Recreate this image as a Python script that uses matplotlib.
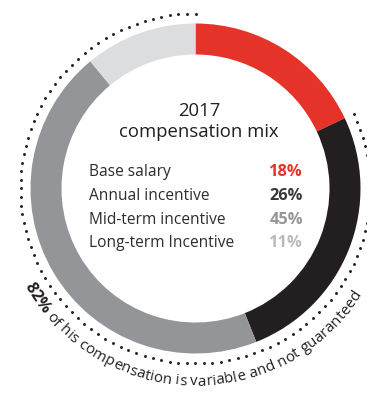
import numpy as np
import matplotlib
matplotlib.use("Agg")
import matplotlib.pyplot as plt
from matplotlib.font_manager import FontProperties

# compensation mix, 2017
labels = ["Base salary", "Annual incentive", "Mid-term incentive", "Long-term Incentive"]
shares = [18, 26, 45, 11]
ring_colors = ["#E5332A", "#231F20", "#939598", "#DCDDDE"]
pct_colors = ["#E5332A", "#3A393A", "#939598", "#B8BABC"]
title_lines = ["2017", "compensation mix"]
variable_label = "82%"
variable_note = " of his compensation is variable and not guaranteed"

DARK = "#231F20"
FONT = "Open Sans"

W, H = 367, 398
fig = plt.figure(figsize=(W / 100, H / 100), dpi=100)
ax = fig.add_axes([0, 0, 1, 1])

# ring, clockwise from twelve o'clock
cx, cy = 195.5, 209.5
R, ring_w = 165, 31
ax.pie(shares, colors=ring_colors, startangle=90, counterclock=False,
       radius=R, center=(cx, cy), wedgeprops=dict(width=ring_w, linewidth=0))
ax.set_xlim(0, W)
ax.set_ylim(0, H)
ax.set_aspect("auto")
ax.axis("off")

# dotted arc around the variable part (everything except base salary)
base_deg = 360 * shares[0] / 100
theta = np.radians(np.linspace(90, 450 - base_deg, 106))
r_dots = 175
ax.scatter(cx + r_dots * np.cos(theta), cy + r_dots * np.sin(theta),
           s=4.5, color=DARK, linewidths=0, zorder=3)

# centre title
ax.text(199, H - 116, title_lines[0], ha="center", va="baseline",
        fontsize=13.3, family=FONT, color=DARK)
ax.text(199, H - 137, title_lines[1], ha="center", va="baseline",
        fontsize=13.3, family=FONT, color=DARK)

# legend rows
baselines = [176, 200, 223.5, 247]
for lab, val, col, yb in zip(labels, shares, pct_colors, baselines):
    ax.text(89, H - yb, lab, ha="left", va="baseline",
            fontsize=11.2, family=FONT, color="#2E2C2D")
    ax.text(303, H - yb, f"{val}%", ha="right", va="baseline",
            fontsize=11.8, family=FONT, fontweight="bold", color=col)

# curved note under the ring
fp_bold = FontProperties(family=FONT, weight="bold", size=11.8)
fp_reg = FontProperties(family=FONT, size=10.8)
renderer = fig.canvas.get_renderer()


def advance(ch, fp):
    w_with = renderer.get_text_width_height_descent("|" + ch + "|", fp, ismath=False)[0]
    w_bars = renderer.get_text_width_height_descent("||", fp, ismath=False)[0]
    return w_with - w_bars


chars = [(c, fp_bold) for c in variable_label] + [(c, fp_reg) for c in variable_note]
widths = [advance(c, fp) for c, fp in chars]
total = sum(widths)
r_mid, r_base = 193, 197
start = np.radians(-91.5) - total / r_mid / 2
pos = 0.0
for (c, fp), w in zip(chars, widths):
    a = start + (pos + w / 2) / r_mid
    pos += w
    if c == " ":
        continue
    ax.text(cx + r_base * np.cos(a), cy + r_base * np.sin(a), c,
            fontproperties=fp, color=DARK, rotation=np.degrees(a) + 90,
            rotation_mode="anchor", ha="center", va="baseline")

fig.savefig("out.png", dpi=100)
